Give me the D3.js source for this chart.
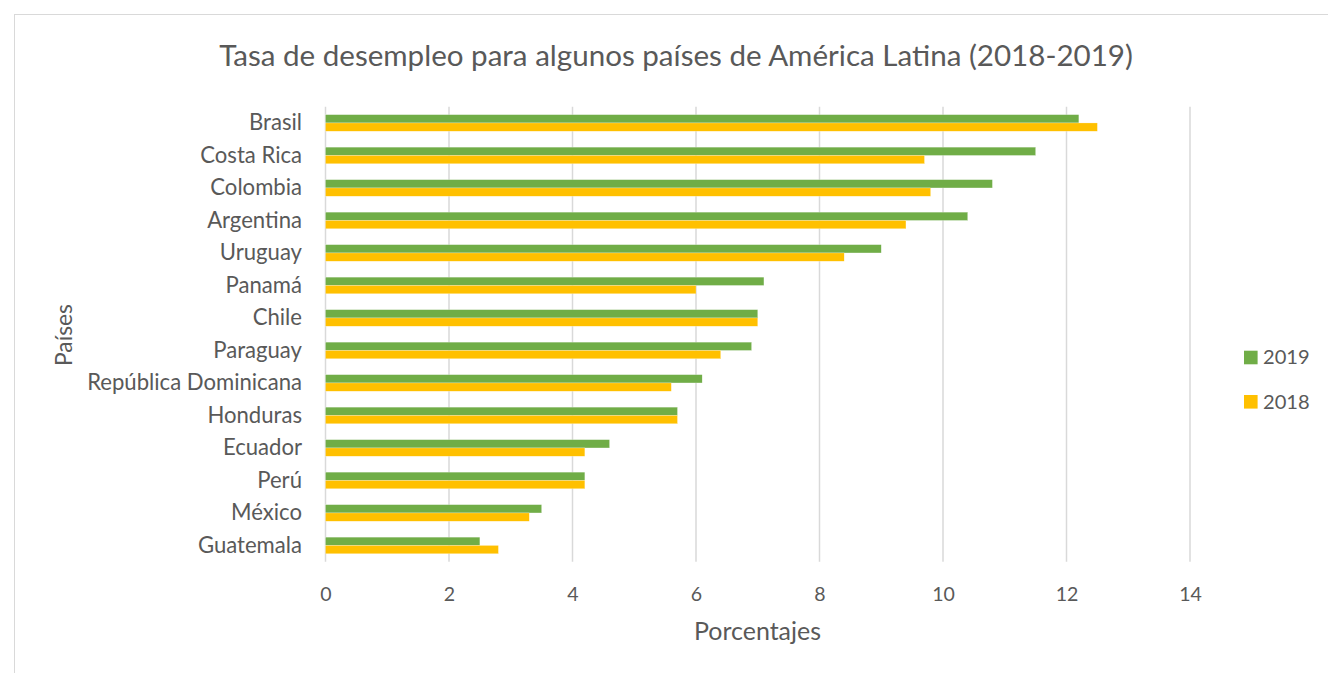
<!DOCTYPE html>
<html>
<head>
<meta charset="utf-8">
<script src="https://cdn.jsdelivr.net/npm/d3@7/dist/d3.min.js"></script>
<style>
  html, body { margin: 0; padding: 0; background: #fff; }
  svg { display: block; }
  text { font-family: Lato, "Open Sans", sans-serif; fill: #595959; }
</style>
</head>
<body>
<svg id="chart" width="1328" height="673"></svg>
<script>
const categories = ["Brasil", "Costa Rica", "Colombia", "Argentina", "Uruguay", "Panamá", "Chile", "Paraguay", "República Dominicana", "Honduras", "Ecuador", "Perú", "México", "Guatemala"];
const values2019 = [12.2, 11.5, 10.8, 10.4, 9.0, 7.1, 7.0, 6.9, 6.1, 5.7, 4.6, 4.2, 3.5, 2.5];
const values2018 = [12.5, 9.7, 9.8, 9.4, 8.4, 6.0, 7.0, 6.4, 5.6, 5.7, 4.2, 4.2, 3.3, 2.8];
const seriesNames = ["2019", "2018"];
const seriesColors = ["#70AD47", "#FFC000"];
const xTicks = [0, 2, 4, 6, 8, 10, 12, 14];
const titleText = "Tasa de desempleo para algunos países de América Latina (2018-2019)";
const xTitle = "Porcentajes";
const yTitle = "Países";

const svg = d3.select("#chart");

// outer chart border
svg.append("rect")
  .attr("x", 14.5).attr("y", 14.5)
  .attr("width", 1340).attr("height", 700)
  .attr("fill", "none").attr("stroke", "#d9d9d9").attr("stroke-width", 1);

const plot = { left: 325.5, right: 1190, top: 106.7, bottom: 561.7 };

const x = d3.scaleLinear().domain([0, 14]).range([plot.left, plot.right]);
const y = d3.scaleBand().domain(categories).range([plot.top, plot.bottom]).padding(0);
const ySub = d3.scaleBand().domain(seriesNames).range([0, y.bandwidth()]).paddingInner(0).paddingOuter(0.96);

function fit(sel, target) {
  const n = sel.node();
  const fs = parseFloat(sel.attr("font-size"));
  const w = n.getComputedTextLength();
  sel.attr("font-size", (fs * target / w).toFixed(2));
  return fs * target / w;
}

// gridlines
svg.append("g").selectAll("line").data(xTicks).join("line")
  .attr("x1", d => x(d)).attr("x2", d => x(d))
  .attr("y1", plot.top).attr("y2", plot.bottom)
  .attr("stroke", "#d9d9d9").attr("stroke-width", 1.5);

// bars
const data = categories.map((c, i) => ({ c, vals: [values2019[i], values2018[i]] }));
const groups = svg.append("g").selectAll("g").data(data).join("g")
  .attr("transform", d => `translate(0,${y(d.c)})`);
groups.selectAll("rect").data(d => d.vals.map((v, j) => ({ v, s: seriesNames[j], col: seriesColors[j] })))
  .join("rect")
  .attr("x", x(0))
  .attr("y", d => ySub(d.s))
  .attr("width", d => x(d.v) - x(0))
  .attr("height", ySub.bandwidth())
  .attr("fill", d => d.col)
  .attr("stroke", "#ffffff").attr("stroke-width", 0.4).attr("stroke-opacity", 0.6);

// category labels (fit size on longest label)
const probe = svg.append("text").attr("font-size", 18).text("República Dominicana");
const catFs = fit(probe, 215);
probe.remove();
svg.append("g").selectAll("text").data(categories).join("text")
  .attr("x", 302)
  .attr("y", d => y(d) + y.bandwidth() / 2 + catFs * 0.36 - 0.5)
  .attr("text-anchor", "end")
  .attr("font-size", catFs.toFixed(2))
  .text(d => d);

// x tick labels
const tprobe = svg.append("text").attr("font-size", 18).text("14");
const tickFs = fit(tprobe, 22.7);
tprobe.remove();
const xAxis = d3.axisBottom(x).tickValues(xTicks).tickSize(0).tickPadding(0).tickFormat(d3.format("d"));
const ax = svg.append("g").call(xAxis);
ax.select(".domain").remove();
ax.attr("font-family", null).attr("font-size", null);
ax.selectAll("text")
  .attr("y", 600.5).attr("dy", null)
  .attr("font-size", tickFs.toFixed(2))
  .attr("fill", "#595959");

// title
const t = svg.append("text").attr("x", 676).attr("y", 65.7).attr("text-anchor", "middle")
  .attr("font-size", 26).text(titleText);
fit(t, 914);

// x axis title
const xt = svg.append("text").attr("x", 757.5).attr("y", 640).attr("text-anchor", "middle")
  .attr("font-size", 20).text(xTitle);
fit(xt, 127);

// y axis title
const yt = svg.append("text").attr("transform", "translate(71.5,335) rotate(-90)").attr("text-anchor", "middle")
  .attr("font-size", 20).text(yTitle);
fit(yt, 62);

// legend
const leg = svg.append("g");
const legY = [350.7, 395];
seriesNames.forEach((s, i) => {
  leg.append("rect").attr("x", 1244).attr("y", legY[i]).attr("width", 13.6).attr("height", 13.6).attr("fill", seriesColors[i]);
  const lt = leg.append("text").attr("x", 1263).attr("y", legY[i] + 13.6).attr("font-size", 18).text(s);
  fit(lt, 46.7);
});
</script>
</body>
</html>
